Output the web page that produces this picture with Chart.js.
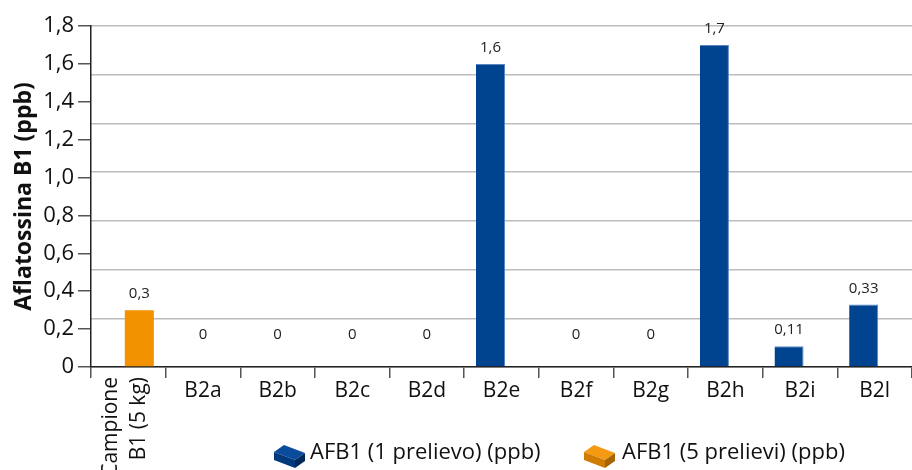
<!DOCTYPE html>
<html lang="it">
<head>
  <meta charset="UTF-8">
  <title>Aflatossina B1</title>
  <script src="https://cdn.jsdelivr.net/npm/chart.js"></script>
  <style>
    html, body { margin: 0; padding: 0; background: #fff; }
    #wrap { width: 912px; height: 470px; position: relative; }
  </style>
</head>
<body>
<div id="wrap"><canvas id="chart" width="912" height="470"></canvas></div>
<script>
  const categories = ["Campione B1 (5 kg)", "B2a", "B2b", "B2c", "B2d", "B2e", "B2f", "B2g", "B2h", "B2i", "B2l"];
  const fivePrelievi = [0.3, null, null, null, null, null, null, null, null, null, null];
  const unPrelievo = [null, 0, 0, 0, 0, 1.6, 0, 0, 1.7, 0.11, 0.33];
  const yTicks = [0, 0.2, 0.4, 0.6, 0.8, 1.0, 1.2, 1.4, 1.6, 1.8];

  const BLUE = "#00448f";
  const ORANGE = "#f39200";
  const FONT = "'Open Sans', sans-serif";

  const fmt = v => v.toLocaleString("it-IT", { maximumFractionDigits: 2 });

  // value labels above bars
  const valueLabels = {
    id: "valueLabels",
    afterDatasetsDraw(chart) {
      const ctx = chart.ctx;
      ctx.save();
      ctx.font = "15px " + FONT;
      ctx.fillStyle = "#222";
      ctx.textAlign = "center";
      ctx.textBaseline = "middle";
      chart.data.datasets.forEach((ds, i) => {
        chart.getDatasetMeta(i).data.forEach((bar, j) => {
          const v = ds.data[j];
          if (v === null) return;
          const off = v === 0 ? 32 : 16;
          ctx.fillText(fmt(v), v === 0 ? chart.scales.x.getPixelForTick(j) : bar.x, bar.y - off);
        });
      });
      ctx.restore();
    }
  };

  // first category label is rotated on two lines
  const rotatedLabel = {
    id: "rotatedLabel",
    afterDraw(chart) {
      const ctx = chart.ctx;
      const x = chart.scales.x.getPixelForTick(0);
      const top = chart.chartArea.bottom + 10;
      ctx.save();
      ctx.translate(x, top);
      ctx.rotate(-Math.PI / 2);
      ctx.font = "21px " + FONT;
      ctx.fillStyle = "#111";
      ctx.textAlign = "right";
      ctx.textBaseline = "middle";
      ctx.fillText("Campione", 0, -17);
      ctx.fillText("B1 (5 kg)", 0, 11);
      ctx.restore();
    }
  };

  function box(ctx, x, y, top, front, side) {
    ctx.fillStyle = top;
    ctx.beginPath();
    ctx.moveTo(x, y + 8); ctx.lineTo(x + 10, y + 1); ctx.lineTo(x + 31, y + 9); ctx.lineTo(x + 21, y + 16);
    ctx.closePath(); ctx.fill();
    ctx.fillStyle = front;
    ctx.beginPath();
    ctx.moveTo(x, y + 8); ctx.lineTo(x + 21, y + 16); ctx.lineTo(x + 21, y + 24); ctx.lineTo(x, y + 16);
    ctx.closePath(); ctx.fill();
    ctx.fillStyle = side;
    ctx.beginPath();
    ctx.moveTo(x + 21, y + 16); ctx.lineTo(x + 31, y + 9); ctx.lineTo(x + 31, y + 17); ctx.lineTo(x + 21, y + 24);
    ctx.closePath(); ctx.fill();
  }

  const boxLegend = {
    id: "boxLegend",
    afterDraw(chart) {
      const ctx = chart.ctx;
      ctx.save();
      ctx.font = "22px " + FONT;
      ctx.textBaseline = "middle";
      box(ctx, 274, 444, "#0a4c9c", "#003a7c", "#00285a");
      ctx.fillStyle = "#111";
      ctx.fillText("AFB1 (1 prelievo) (ppb)", 310, 453);
      box(ctx, 584, 444, "#f39a12", "#d07c00", "#a86400");
      ctx.fillStyle = "#111";
      ctx.fillText("AFB1 (5 prelievi) (ppb)", 622, 453);
      ctx.restore();
    }
  };

  new Chart(document.getElementById("chart"), {
    type: "bar",
    data: {
      labels: categories,
      datasets: [
        { label: "AFB1 (1 prelievo) (ppb)", data: unPrelievo, backgroundColor: BLUE, borderColor: "#5b86c2", borderWidth: { top: 1, right: 1 } },
        { label: "AFB1 (5 prelievi) (ppb)", data: fivePrelievi, backgroundColor: ORANGE }
      ]
    },
    options: {
      responsive: false,
      animation: false,
      devicePixelRatio: 1,
      layout: { padding: { top: 26, right: 0, bottom: 0, left: 0 } },
      datasets: { bar: { categoryPercentage: 0.59, barPercentage: 1.32 } },
      plugins: { legend: { display: false }, tooltip: { enabled: false } },
      scales: {
        x: {
          grid: { offset: true, drawOnChartArea: false, tickLength: 11, color: "#555", lineWidth: 1.5 },
          border: { color: "#222", width: 1.5 },
          ticks: {
            font: { family: FONT, size: 21 }, color: "#111", padding: 0,
            maxRotation: 0, autoSkip: false,
            callback: (v, i) => i === 0 ? "" : categories[i]
          },
          afterFit: s => { s.height = 103; }
        },
        y: {
          min: 0, max: 1.8,
          afterBuildTicks: s => { s.ticks = yTicks.map(v => ({ value: v })); },
          grid: { drawOnChartArea: false, tickLength: 13, color: "#555", lineWidth: 1.5 },
          border: { color: "#222", width: 1.5 },
          ticks: { font: { family: FONT, size: 22 }, color: "#111", padding: 4, callback: v => v === 0 ? "0" : v.toFixed(1).replace(".", ",") },
          title: { display: true, text: "Aflatossina B1 (ppb)", font: { family: FONT, size: 23, weight: "bold" }, color: "#111", padding: { top: 11 } },
          afterFit: s => { s.width = 91; }
        },
        grid7: {
          position: "right", min: 0, max: 7,
          ticks: { display: false, stepSize: 1 },
          grid: { color: "#bcbcbc", lineWidth: 1.5, drawTicks: false },
          border: { display: false },
          afterFit: s => { s.width = 0; }
        }
      }
    },
    plugins: [valueLabels, rotatedLabel, boxLegend]
  });
</script>
</body>
</html>
